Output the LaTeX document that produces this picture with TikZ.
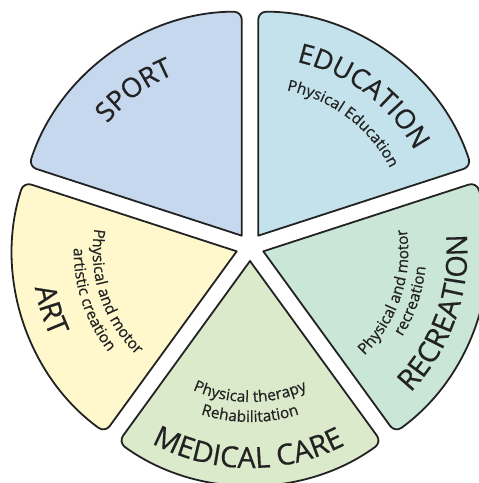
\documentclass[tikz,border=0pt]{standalone}
\usepackage{fontspec}
\setmainfont{Open Sans}[FakeBold=0.5]
\usetikzlibrary{calc,decorations.text}
\definecolor{edge}{HTML}{222222}
\definecolor{sportc}{HTML}{C6D8ED}
\definecolor{educ}{HTML}{C4E2EB}
\definecolor{recc}{HTML}{CAE6D6}
\definecolor{medc}{HTML}{DCEACC}
\definecolor{artc}{HTML}{FFF8CC}
\newcommand{\ttl}{\fontsize{27}{27}\selectfont}
\newcommand{\ttlb}{\fontsize{29}{29}\selectfont}
\newcommand{\sbt}{\fontsize{15.5}{15.5}\selectfont}
\tikzset{
  sectorstyle/.style={draw=edge, line width=1.8pt, line join=round},
  lbl/.style={decorate, decoration={text along path, text align=center, text color=edge, text={#1}}},
}
% apex, centre angle, fill
\newcommand{\sectorshape}[3]{%
  \filldraw[sectorstyle, fill=#3] (#1) -- ($(#1)+({#2-36}:112)$) [rounded corners=8pt]
    -- ($(#1)+({#2-36}:224)$) arc[start angle={#2-36}, end angle={#2+36}, radius=224]
    -- ($(#1)+({#2+36}:112)$) [sharp corners] -- cycle;}
% clockwise text (tops outward)
\newcommand{\arctextcw}[4]{%
  \path[lbl={#4}] ($(#1)+({#2+60}:#3)$) arc[start angle={#2+60}, end angle={#2-60}, radius=#3];}
% counter-clockwise text (tops inward)
\newcommand{\arctextccw}[4]{%
  \path[lbl={#4}] ($(#1)+({#2-60}:#3)$) arc[start angle={#2-60}, end angle={#2+60}, radius=#3];}
\begin{document}
\begin{tikzpicture}[x=1pt,y=1pt]
\useasboundingbox (0,0) rectangle (479,483);
\clip (0,0) rectangle (479,483);
\coordinate (C) at (250,236);
\coordinate (aS) at ($(C)+(126:14)$);
\coordinate (aE) at ($(C)+(54:14)$);
\coordinate (aR) at ($(C)+(-18:14)$);
\coordinate (aM) at ($(C)+(-90:14)$);
\coordinate (aA) at ($(C)+(198:14)$);
\sectorshape{aS}{126}{sportc}
\sectorshape{aE}{54}{educ}
\sectorshape{aR}{-18}{recc}
\sectorshape{aM}{-90}{medc}
\sectorshape{aA}{198}{artc}
\arctextcw{aS}{126.5}{175}{|\ttl|SPORT}
\arctextcw{aE}{53}{178}{|\ttl|EDUCATION}
\arctextcw{aE}{53}{148}{|\sbt|Physical Education}
\arctextccw{aR}{-19.5}{204}{|\ttlb|RECREATION}
\arctextccw{aR}{-18.5}{145}{|\sbt|Physical and motor}
\arctextccw{aR}{-18.5}{163}{|\sbt|recreation}
\arctextccw{aM}{-90.5}{207}{|\ttlb|MEDICAL CARE}
\arctextccw{aM}{-90}{141}{|\sbt|Physical therapy}
\arctextccw{aM}{-90}{161}{|\sbt|Rehabilitation}
\arctextccw{aA}{197.5}{205}{|\ttlb|ART}
\arctextccw{aA}{198.5}{144}{|\sbt|Physical and motor}
\arctextccw{aA}{198.5}{163}{|\sbt|artistic creation}
\end{tikzpicture}
\end{document}
